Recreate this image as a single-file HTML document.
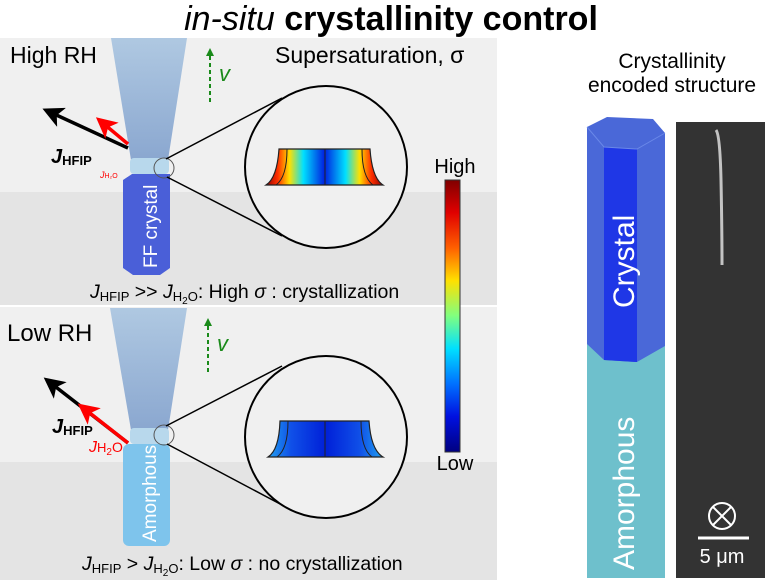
<!DOCTYPE html>
<html><head><meta charset="utf-8"><style>
body{margin:0;width:774px;height:580px;background:#fff;overflow:hidden;font-family:"Liberation Sans",sans-serif}
svg{display:block}
</style></head><body>
<svg width="774" height="580" viewBox="0 0 774 580" font-family="Liberation Sans, sans-serif">
<defs>
<linearGradient id="cb" x1="0" y1="0" x2="0" y2="1">
<stop offset="0" stop-color="#800000"/><stop offset="0.12" stop-color="#e00000"/><stop offset="0.25" stop-color="#ff6000"/><stop offset="0.37" stop-color="#ffe000"/><stop offset="0.5" stop-color="#80ff80"/><stop offset="0.62" stop-color="#00e0ff"/><stop offset="0.75" stop-color="#0070ff"/><stop offset="0.87" stop-color="#0010e0"/><stop offset="1" stop-color="#000080"/>
</linearGradient>
<linearGradient id="hm" x1="0" y1="0" x2="1" y2="0">
<stop offset="0" stop-color="#900000"/><stop offset="0.1" stop-color="#ff3000"/><stop offset="0.2" stop-color="#ffe000"/><stop offset="0.32" stop-color="#00e0ff"/><stop offset="0.5" stop-color="#0020e0"/><stop offset="0.68" stop-color="#00e0ff"/><stop offset="0.8" stop-color="#ffe000"/><stop offset="0.9" stop-color="#ff3000"/><stop offset="1" stop-color="#900000"/>
</linearGradient>
<linearGradient id="lm" x1="0" y1="0" x2="1" y2="0">
<stop offset="0" stop-color="#20a0f0"/><stop offset="0.2" stop-color="#1050e8"/><stop offset="0.5" stop-color="#0020d8"/><stop offset="0.8" stop-color="#1050e8"/><stop offset="1" stop-color="#20a0f0"/>
</linearGradient>
<linearGradient id="cap" x1="0" y1="0" x2="0" y2="1">
<stop offset="0" stop-color="#a8c4e0"/><stop offset="1" stop-color="#7f9fcc"/>
</linearGradient>
<marker id="ab" markerWidth="6" markerHeight="6" refX="3" refY="3" orient="auto"><path d="M0,0 L6,3 L0,6 L1.5,3Z" fill="#000"/></marker>
<marker id="ar" markerWidth="6" markerHeight="6" refX="3" refY="3" orient="auto"><path d="M0,0 L6,3 L0,6 L1.5,3Z" fill="#f00"/></marker>
</defs>
<text x="391" y="30" font-size="34" text-anchor="middle"><tspan font-style="italic">in-situ</tspan> <tspan font-weight="bold">crystallinity control</tspan></text>

<rect x="0" y="38" width="497" height="154" fill="#f0f0f0"/>
<rect x="0" y="192" width="497" height="113" fill="#e4e4e4"/>
<rect x="0" y="307" width="497" height="155" fill="#f0f0f0"/>
<rect x="0" y="462" width="497" height="118" fill="#e4e4e4"/>

<path d="M111,38 L187,38 L168,160 L131,160Z" fill="url(#cap)" opacity="0.9"/>
<rect x="130" y="158" width="39" height="16" rx="4" fill="#b8d8ec"/>
<path d="M123,180 L132,174 L170,174 L170,268 L160,275 L133,275 L123,268Z" fill="#4a5fd8"/>
<text transform="translate(157,268) rotate(-90)" font-size="19" fill="#fff">FF crystal</text>
<path d="M110,308 L187,308 L168,430 L131,430Z" fill="url(#cap)" opacity="0.9"/>
<rect x="130" y="428" width="39" height="16" rx="4" fill="#b8d8ec"/>
<rect x="123" y="444" width="47" height="102" rx="6" fill="#7ec4ec"/>
<text transform="translate(156,542) rotate(-90)" font-size="19" fill="#fff">Amorphous</text>

<text x="10" y="63" font-size="23">High RH</text>
<text x="275" y="63" font-size="23">Supersaturation, σ</text>
<text x="7" y="341" font-size="24">Low RH</text>
<line x1="210" y1="102" x2="210" y2="52" stroke="#1a8a1a" stroke-width="2" stroke-dasharray="4,3"/>
<path d="M206,56 L210,48 L214,56Z" fill="#1a8a1a"/>
<text x="219" y="81" font-size="22" font-style="italic" fill="#1a8a1a">v</text>
<line x1="208" y1="372" x2="208" y2="322" stroke="#1a8a1a" stroke-width="2" stroke-dasharray="4,3"/>
<path d="M204,326 L208,318 L212,326Z" fill="#1a8a1a"/>
<text x="217" y="351" font-size="22" font-style="italic" fill="#1a8a1a">v</text>

<line x1="128" y1="148" x2="52" y2="113" stroke="#000" stroke-width="3.5" marker-end="url(#ab)"/>
<line x1="128" y1="144" x2="104" y2="124" stroke="#f00" stroke-width="3.5" marker-end="url(#ar)"/>
<text x="51" y="163" font-size="20" font-weight="bold" font-style="italic">J<tspan font-size="13" font-style="normal" dy="2">HFIP</tspan></text>
<text x="100" y="178" font-size="9" font-style="italic" fill="#f00">J<tspan font-size="7" font-style="normal">H₂O</tspan></text>
<line x1="128" y1="443" x2="52" y2="384" stroke="#000" stroke-width="3.5" marker-end="url(#ab)"/>
<line x1="128" y1="443" x2="86" y2="410" stroke="#f00" stroke-width="3.5" marker-end="url(#ar)"/>
<text x="52" y="433" font-size="20" font-weight="bold" font-style="italic">J<tspan font-size="13" font-style="normal" dy="2">HFIP</tspan></text>
<text x="89" y="452" font-size="16" font-style="italic" fill="#f00">J<tspan font-size="13" font-style="normal">H</tspan><tspan font-size="10" font-style="normal" dy="3">2</tspan><tspan font-size="14" font-style="normal" dy="-3">O</tspan></text>

<circle cx="164" cy="168" r="10" fill="none" stroke="#555" stroke-width="1"/>
<line x1="166" y1="159" x2="282" y2="98" stroke="#000" stroke-width="1.5"/>
<line x1="167" y1="177" x2="282" y2="236" stroke="#000" stroke-width="1.5"/>
<circle cx="326" cy="167" r="81" fill="#f0f0f0" stroke="#000" stroke-width="2"/>
<path d="M279,149 L370,149 Q372,178 383,185 L266,185 Q277,178 279,149Z" fill="url(#hm)" stroke="#222" stroke-width="1.2"/>
<path d="M287,149 Q287,177 276,185 M362,149 Q362,177 373,185 M325,149 L325,185" fill="none" stroke="#222" stroke-width="1"/>

<circle cx="164" cy="435" r="10" fill="none" stroke="#555" stroke-width="1"/>
<line x1="166" y1="426" x2="282" y2="366" stroke="#000" stroke-width="1.5"/>
<line x1="167" y1="444" x2="282" y2="505" stroke="#000" stroke-width="1.5"/>
<circle cx="326" cy="437" r="81" fill="#f0f0f0" stroke="#000" stroke-width="2"/>
<path d="M280,421 L369,421 Q371,450 383,457 L268,457 Q279,450 280,421Z" fill="url(#lm)" stroke="#222" stroke-width="1.2"/>
<path d="M288,421 Q288,449 277,457 M361,421 Q361,449 372,457 M325,421 L325,457" fill="none" stroke="#222" stroke-width="1"/>

<text x="455" y="173" font-size="20" text-anchor="middle">High</text>
<rect x="445" y="180" width="15" height="272" fill="url(#cb)" stroke="#333" stroke-width="1"/>
<text x="455" y="470" font-size="20" text-anchor="middle">Low</text>

<text x="90" y="298" font-size="19.5"><tspan font-style="italic">J</tspan><tspan font-size="13" dy="3">HFIP</tspan><tspan dy="-3"> &gt;&gt; </tspan><tspan font-style="italic">J</tspan><tspan font-size="13" dy="3">H</tspan><tspan font-size="10" dy="3">2</tspan><tspan font-size="13" dy="-3">O</tspan><tspan dy="-3">: High </tspan><tspan font-style="italic">σ</tspan> : crystallization</text>
<text x="82" y="570" font-size="19.5"><tspan font-style="italic">J</tspan><tspan font-size="13" dy="3">HFIP</tspan><tspan dy="-3"> &gt; </tspan><tspan font-style="italic">J</tspan><tspan font-size="13" dy="3">H</tspan><tspan font-size="10" dy="3">2</tspan><tspan font-size="13" dy="-3">O</tspan><tspan dy="-3">:  Low </tspan><tspan font-style="italic">σ</tspan> : no crystallization</text>

<text x="672" y="68" font-size="21" text-anchor="middle">Crystallinity</text>
<text x="672" y="92" font-size="21" text-anchor="middle">encoded structure</text>
<rect x="587" y="338" width="78" height="240" fill="#6ec0cc"/>
<path d="M587,127 L607,117 L653,119 L665,133 L665,346 L637,362 L604,360 L587,344Z" fill="#4a68d8"/>
<path d="M604,147 L637,149 L637,362 L604,360Z" fill="#1f37e6"/>
<path d="M587,127 L604,147 L637,149 L665,133" fill="none" stroke="#6a88e8" stroke-width="1"/>
<text transform="translate(634,308) rotate(-90)" font-size="30" fill="#fff">Crystal</text>
<text transform="translate(634,570) rotate(-90)" font-size="30" fill="#fff">Amorphous</text>
<rect x="676" y="122" width="89" height="456" fill="#333"/>
<path d="M716,130 Q720,135 721,180 Q722,230 722,265" stroke="#ddd" stroke-width="3" fill="none" opacity="0.85"/>
<circle cx="722" cy="516" r="13" fill="none" stroke="#fff" stroke-width="2"/>
<path d="M713,507 L731,525 M731,507 L713,525" stroke="#fff" stroke-width="2"/>
<line x1="698" y1="538" x2="749" y2="538" stroke="#fff" stroke-width="3"/>
<text x="722" y="563" font-size="20" fill="#fff" text-anchor="middle">5 μm</text>
</svg>
</body></html>
